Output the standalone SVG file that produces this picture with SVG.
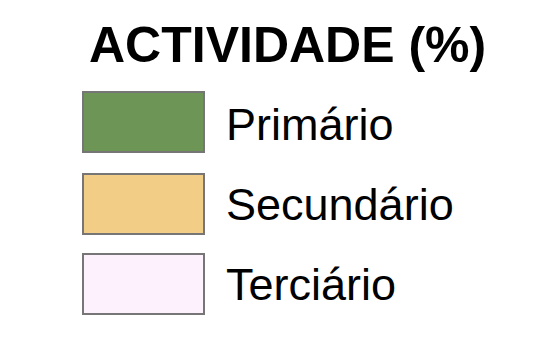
<svg xmlns="http://www.w3.org/2000/svg" width="554" height="348" viewBox="0 0 554 348">
<style>
.sw{stroke:#767676;stroke-width:2}
.lbl{font-family:"Liberation Sans",Arial,sans-serif;font-size:45px;fill:#000}
.ttl{font-family:"Liberation Sans",Arial,sans-serif;font-size:50px;font-weight:bold;fill:#000}
</style>
<rect width="554" height="348" fill="#fff"/>
<text class="ttl" x="89" y="62">ACTIVIDADE (%)</text>
<g id="primario">
<rect class="sw" x="83" y="92" width="121" height="60" fill="#6d9555"/>
<text class="lbl" x="226" y="140">Primário</text>
</g>
<g id="secundario">
<rect class="sw" x="83" y="174" width="121" height="60" fill="#f1cd86"/>
<text class="lbl" x="226" y="220">Secundário</text>
</g>
<g id="terciario">
<rect class="sw" x="83" y="254" width="121" height="60" fill="#fdf1fd"/>
<text class="lbl" x="226" y="300">Terciário</text>
</g>
</svg>
